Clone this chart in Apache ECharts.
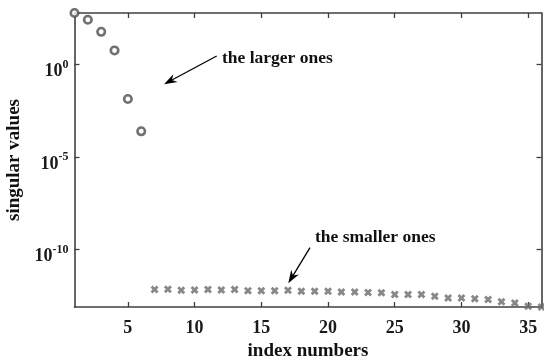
<!DOCTYPE html>
<html>
<head>
<meta charset="utf-8">
<script src="https://cdn.jsdelivr.net/npm/echarts@6/dist/echarts.min.js"></script>
<style>html,body{margin:0;padding:0;background:#fff;}#c{width:544px;height:360px;}</style>
</head>
<body>
<div id="c"></div>
<script>
// ---- data ----
var largeIdx = [1, 2, 3, 4, 5, 6];
var largeVals = [624, 270, 60, 5.9, 0.014, 2.5e-4];
var smallIdx = [7, 8, 9, 10, 11, 12, 13, 14, 15, 16, 17, 18, 19, 20, 21, 22, 23, 24, 25, 26, 27, 28, 29, 30, 31, 32, 33, 34, 35, 36];
var smallVals = [6.9e-13, 7.1e-13, 6.3e-13, 6.6e-13, 6.9e-13, 6.6e-13, 6.9e-13, 6.0e-13, 6.0e-13, 6.0e-13,
                 6.3e-13, 5.6e-13, 5.6e-13, 5.6e-13, 5.1e-13, 5.1e-13, 4.8e-13, 4.6e-13, 3.7e-13, 3.7e-13,
                 3.7e-13, 3.0e-13, 2.45e-13, 2.45e-13, 2.2e-13, 2.0e-13, 1.5e-13, 1.3e-13, 8.7e-14, 7.9e-14];
var xTicks = [5, 10, 15, 20, 25, 30, 35];
var yTicks = [1, 1e-5, 1e-10];
var xTitle = 'index numbers';
var yTitle = 'singular values';
var noteLarge = 'the larger ones';
var noteSmall = 'the smaller ones';

var FONT = "'Liberation Serif', 'Times New Roman', serif";
var AX = '#404040';
var xMin = 1, xMax = 36;
var yMin = Math.min.apply(null, smallVals);
var yMax = Math.max.apply(null, largeVals);

function pairs(xs, ys) { return xs.map(function (x, i) { return [x, ys[i]]; }); }

function yLabel(v) {
  var e = Math.round(Math.log10(v));
  return '{b|10}{s|' + e + '}';
}

function arrow(x1, y1, x2, y2) {
  var dx = x2 - x1, dy = y2 - y1, L = Math.sqrt(dx * dx + dy * dy);
  var ux = dx / L, uy = dy / L, px = -uy, py = ux;
  var len = 13, w = 4.5, notch = 9;
  var bx = x2 - ux * len, by = y2 - uy * len;
  var nx = x2 - ux * notch, ny = y2 - uy * notch;
  return [
    { type: 'line', shape: { x1: x1, y1: y1, x2: nx, y2: ny }, style: { stroke: '#000', lineWidth: 1.3 } },
    { type: 'polygon', shape: { points: [[x2, y2], [bx + px * w, by + py * w], [nx, ny], [bx - px * w, by - py * w]] }, style: { fill: '#000' } }
  ];
}

var chart = echarts.init(document.getElementById('c'), null, { renderer: 'canvas' });

var tickCommon = { show: true, inside: true, length: 5, lineStyle: { color: AX, width: 1.3 } };
var lineCommon = { show: true, onZero: false, lineStyle: { color: AX, width: 1.6 } };

var option = {
  animation: false,
  backgroundColor: '#fff',
  grid: { left: 74.5, right: 2.5, top: 13, bottom: 53, containLabel: false, outerBoundsMode: 'none' },
  xAxis: [{
    type: 'value', min: xMin, max: xMax,
    name: xTitle, nameLocation: 'middle', nameGap: 35,
    nameTextStyle: { fontFamily: FONT, fontWeight: 'bold', fontSize: 19, color: '#111' },
    axisLine: lineCommon,
    axisTick: Object.assign({ customValues: xTicks }, tickCommon),
    axisLabel: { customValues: xTicks, fontFamily: FONT, fontWeight: 'bold', fontSize: 18, color: '#1a1a1a', margin: 12 },
    splitLine: { show: false }
  }, {
    type: 'value', min: xMin, max: xMax, position: 'top',
    axisLine: lineCommon,
    axisTick: Object.assign({ customValues: xTicks }, tickCommon),
    axisLabel: { show: false },
    splitLine: { show: false }
  }],
  yAxis: [{
    type: 'log', logBase: 10, min: yMin, max: yMax,
    name: yTitle, nameLocation: 'middle', nameGap: 48,
    nameTextStyle: { fontFamily: FONT, fontWeight: 'bold', fontSize: 19, color: '#111' },
    axisLine: lineCommon,
    axisTick: Object.assign({ customValues: yTicks }, tickCommon),
    axisLabel: {
      customValues: yTicks, margin: 6, formatter: yLabel, padding: [10, 0, 0, 0],
      rich: {
        b: { fontFamily: FONT, fontWeight: 'bold', fontSize: 18, color: '#1a1a1a', lineHeight: 22, verticalAlign: 'bottom' },
        s: { fontFamily: FONT, fontWeight: 'bold', fontSize: 12, color: '#1a1a1a', lineHeight: 10, verticalAlign: 'top' }
      }
    },
    splitLine: { show: false }
  }, {
    type: 'log', logBase: 10, min: yMin, max: yMax, position: 'right',
    axisLine: lineCommon,
    axisTick: Object.assign({ customValues: yTicks }, tickCommon),
    axisLabel: { show: false },
    splitLine: { show: false }
  }],
  series: [{
    type: 'scatter', xAxisIndex: 0, yAxisIndex: 0,
    data: pairs(largeIdx, largeVals),
    symbol: 'circle', symbolSize: 7.5,
    itemStyle: { color: '#fff', borderColor: '#4e4e4e', borderWidth: 2.6 },
    z: 3
  }, {
    type: 'scatter', xAxisIndex: 0, yAxisIndex: 0,
    data: pairs(smallIdx, smallVals),
    symbol: 'path://M0,2.5 L2.5,0 L5,2.5 L7.5,0 L10,2.5 L7.5,5 L10,7.5 L7.5,10 L5,7.5 L2.5,10 L0,7.5 L2.5,5 Z',
    symbolSize: 8,
    itemStyle: { color: '#6a6a6a' },
    z: 3
  }],
  graphic: [].concat(
    arrow(216.7, 56, 164, 84.3),
    arrow(310, 247.7, 288.3, 283.3),
    [
      { type: 'text', left: 222, top: 49, style: { text: noteLarge, font: 'bold 17.5px ' + FONT, fill: '#111' } },
      { type: 'text', left: 315, top: 228, style: { text: noteSmall, font: 'bold 17.5px ' + FONT, fill: '#111' } }
    ]
  )
};
chart.setOption(option);
</script>
</body>
</html>
